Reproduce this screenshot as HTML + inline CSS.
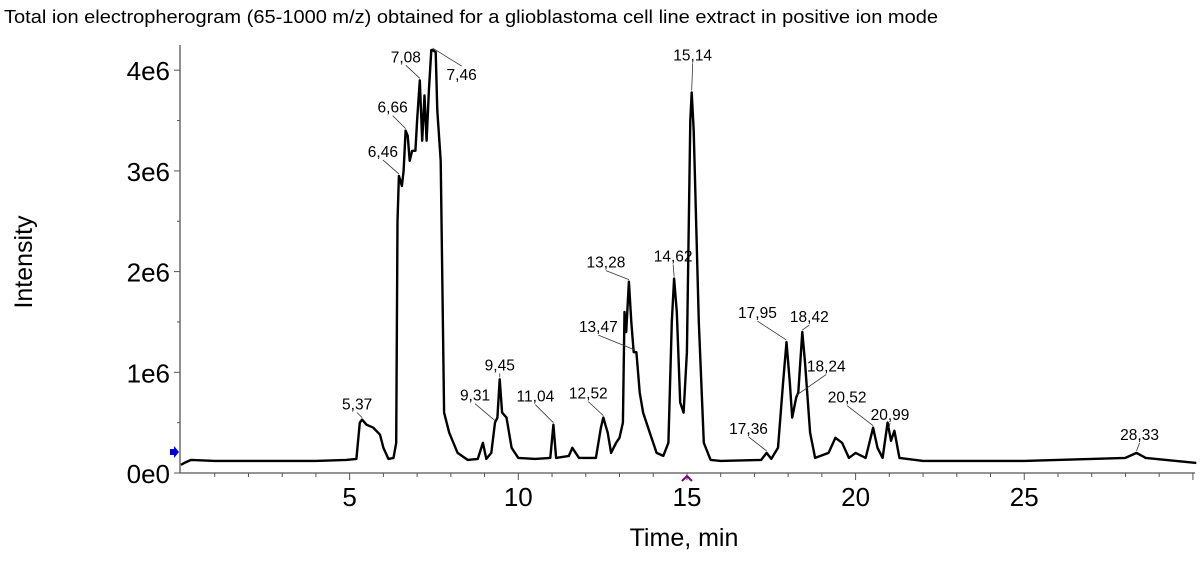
<!DOCTYPE html>
<html><head><meta charset="utf-8"><style>
body{margin:0;background:#fff;width:1200px;height:559px;overflow:hidden;font-family:"Liberation Sans",Arial,sans-serif}
</style></head><body>
<svg width="1200" height="559" id="c">
<text x="4" y="23" font-size="18" textLength="934" lengthAdjust="spacingAndGlyphs" fill="#000">Total ion electropherogram (65-1000 m/z) obtained for a glioblastoma cell line extract in positive ion mode</text>
<text x="684" y="546" font-size="25" text-anchor="middle">Time, min</text>
<text transform="translate(32,262) rotate(-90)" font-size="25" text-anchor="middle">Intensity</text>
</svg>
<script>
const times=[0,0.1,0.3,1,2,3,4,4.9,5.2,5.3,5.37,5.5,5.7,5.9,6.0,6.15,6.3,6.38,6.42,6.46,6.55,6.6,6.66,6.72,6.78,6.85,6.95,7.0,7.08,7.15,7.22,7.28,7.35,7.42,7.46,7.55,7.6,7.7,7.8,7.95,8.2,8.5,8.8,8.95,9.05,9.2,9.31,9.38,9.45,9.52,9.65,9.8,10,10.5,10.95,11.04,11.12,11.5,11.6,11.8,12.3,12.45,12.52,12.65,12.75,12.9,13.0,13.1,13.15,13.2,13.28,13.35,13.42,13.5,13.6,13.7,13.9,14.1,14.3,14.45,14.55,14.62,14.7,14.8,14.9,15.0,15.1,15.14,15.2,15.35,15.5,15.7,16,17.2,17.36,17.5,17.7,17.85,17.95,18.05,18.12,18.24,18.3,18.42,18.5,18.65,18.8,19.2,19.4,19.6,19.8,20.0,20.3,20.52,20.65,20.8,20.95,21.05,21.15,21.3,22,25,28,28.33,28.6,29.5,30.1];
const intens=[0.08,0.1,0.13,0.12,0.12,0.12,0.12,0.13,0.14,0.5,0.53,0.48,0.45,0.38,0.25,0.14,0.15,0.3,2.5,2.95,2.85,3.0,3.4,3.35,3.1,3.2,3.2,3.5,3.9,3.3,3.75,3.3,3.8,4.2,4.2,4.18,3.6,3.1,0.6,0.4,0.2,0.13,0.14,0.3,0.14,0.2,0.5,0.55,0.93,0.6,0.55,0.25,0.15,0.14,0.15,0.48,0.15,0.17,0.25,0.15,0.15,0.45,0.55,0.4,0.2,0.3,0.35,0.5,1.6,1.4,1.9,1.5,1.2,1.2,0.8,0.6,0.4,0.2,0.17,0.3,1.5,1.93,1.6,0.7,0.6,1.2,3.5,3.78,3.4,1.5,0.3,0.13,0.12,0.13,0.2,0.14,0.25,0.9,1.3,0.9,0.55,0.75,0.8,1.4,1.1,0.4,0.15,0.2,0.35,0.3,0.15,0.2,0.15,0.45,0.25,0.15,0.5,0.32,0.42,0.15,0.12,0.12,0.15,0.2,0.15,0.12,0.1];
const xTicks=[5,10,15,20,25];
const yTicks=[0,1,2,3,4];
const yTickLabels=["0e0","1e6","2e6","3e6","4e6"];
const peakLabels=["5,37","6,46","6,66","7,08","7,46","9,31","9,45","11,04","12,52","13,28","13,47","14,62","15,14","17,36","17,95","18,24","18,42","20,52","20,99","28,33"];
const peakTimes=[5.37,6.46,6.66,7.08,7.46,9.31,9.45,11.04,12.52,13.28,13.47,14.62,15.14,17.36,17.95,18.24,18.42,20.52,20.99,28.33];
const labelOffX=[-5,-16,-13,-14,29,-20,0,-18,-15,-23,-37,-1,1,-18,-29,30,7,-26,1,3];
const labelOffY=[-10,-19,-18,-18,30,-22,-9,-23,-19,-14,-20,-17,-32,-19,-24,-26,-10,-25,-10,-13];

const NS="http://www.w3.org/2000/svg";
const svg=document.getElementById('c');
const X0=180,X1=1195,Y0=473;
const xs=t=>181+t*33.73;
const ys=v=>Y0-v*100.7;
function mk(tag,attrs){const e=document.createElementNS(NS,tag);for(const k in attrs)e.setAttribute(k,attrs[k]);svg.appendChild(e);return e;}
let ax=mk('path',{d:`M${X0},45 V${Y0} H${X1}`,stroke:'#555',fill:'none','stroke-width':1.3});


for(let t=1;t<=30;t++){const big=t%5===0;let l=mk('line',{x1:xs(t),x2:xs(t),y1:Y0,y2:Y0+(big?7:4),stroke:'#555'});

}
xTicks.forEach(t=>{let e=mk('text',{x:xs(t),y:Y0+33,'font-size':26,'text-anchor':'middle'});e.textContent=t;

});
for(let v=0;v<=4;v+=0.5){let l=mk('line',{x1:X0-(v%1===0?6:3),x2:X0,y1:ys(v),y2:ys(v),stroke:'#555'});

}
yTicks.forEach((v,i)=>{let e=mk('text',{x:X0-10,y:ys(v)+10,'font-size':26,'text-anchor':'end'});e.textContent=yTickLabels[i];

});
let d=times.map((t,i)=>(i?'L':'M')+xs(t).toFixed(1)+','+ys(intens[i]).toFixed(1)).join(' ');
let ln=mk('path',{d:d,stroke:'#000',fill:'none','stroke-width':2.4,'stroke-linejoin':'round'});


function interp(t){for(let i=1;i<times.length;i++)if(times[i]>=t){const f=(t-times[i-1])/(times[i]-times[i-1]);return intens[i-1]+f*(intens[i]-intens[i-1]);}return 0;}
peakLabels.forEach((s,i)=>{const px=xs(peakTimes[i]),py=ys(interp(peakTimes[i]));
const tx=px+labelOffX[i],ty=py+labelOffY[i];
let c=mk('line',{x1:px,y1:py-2,x2:tx,y2:ty+(labelOffY[i]>0?-14:3),stroke:'#333','stroke-width':0.8});


let e=mk('text',{x:tx,y:ty,'font-size':15.5,'text-anchor':'middle'});e.textContent=s;

});
let ar=mk('path',{d:'M170,449 h4 v-3 l5,6 l-5,6 v-3 h-4z',fill:'#0000dd'});


let cr=mk('path',{d:`M${xs(15)-5},481 l5,-5 l5,5`,stroke:'#800080',fill:'none','stroke-width':2});


</script>
</body></html>
